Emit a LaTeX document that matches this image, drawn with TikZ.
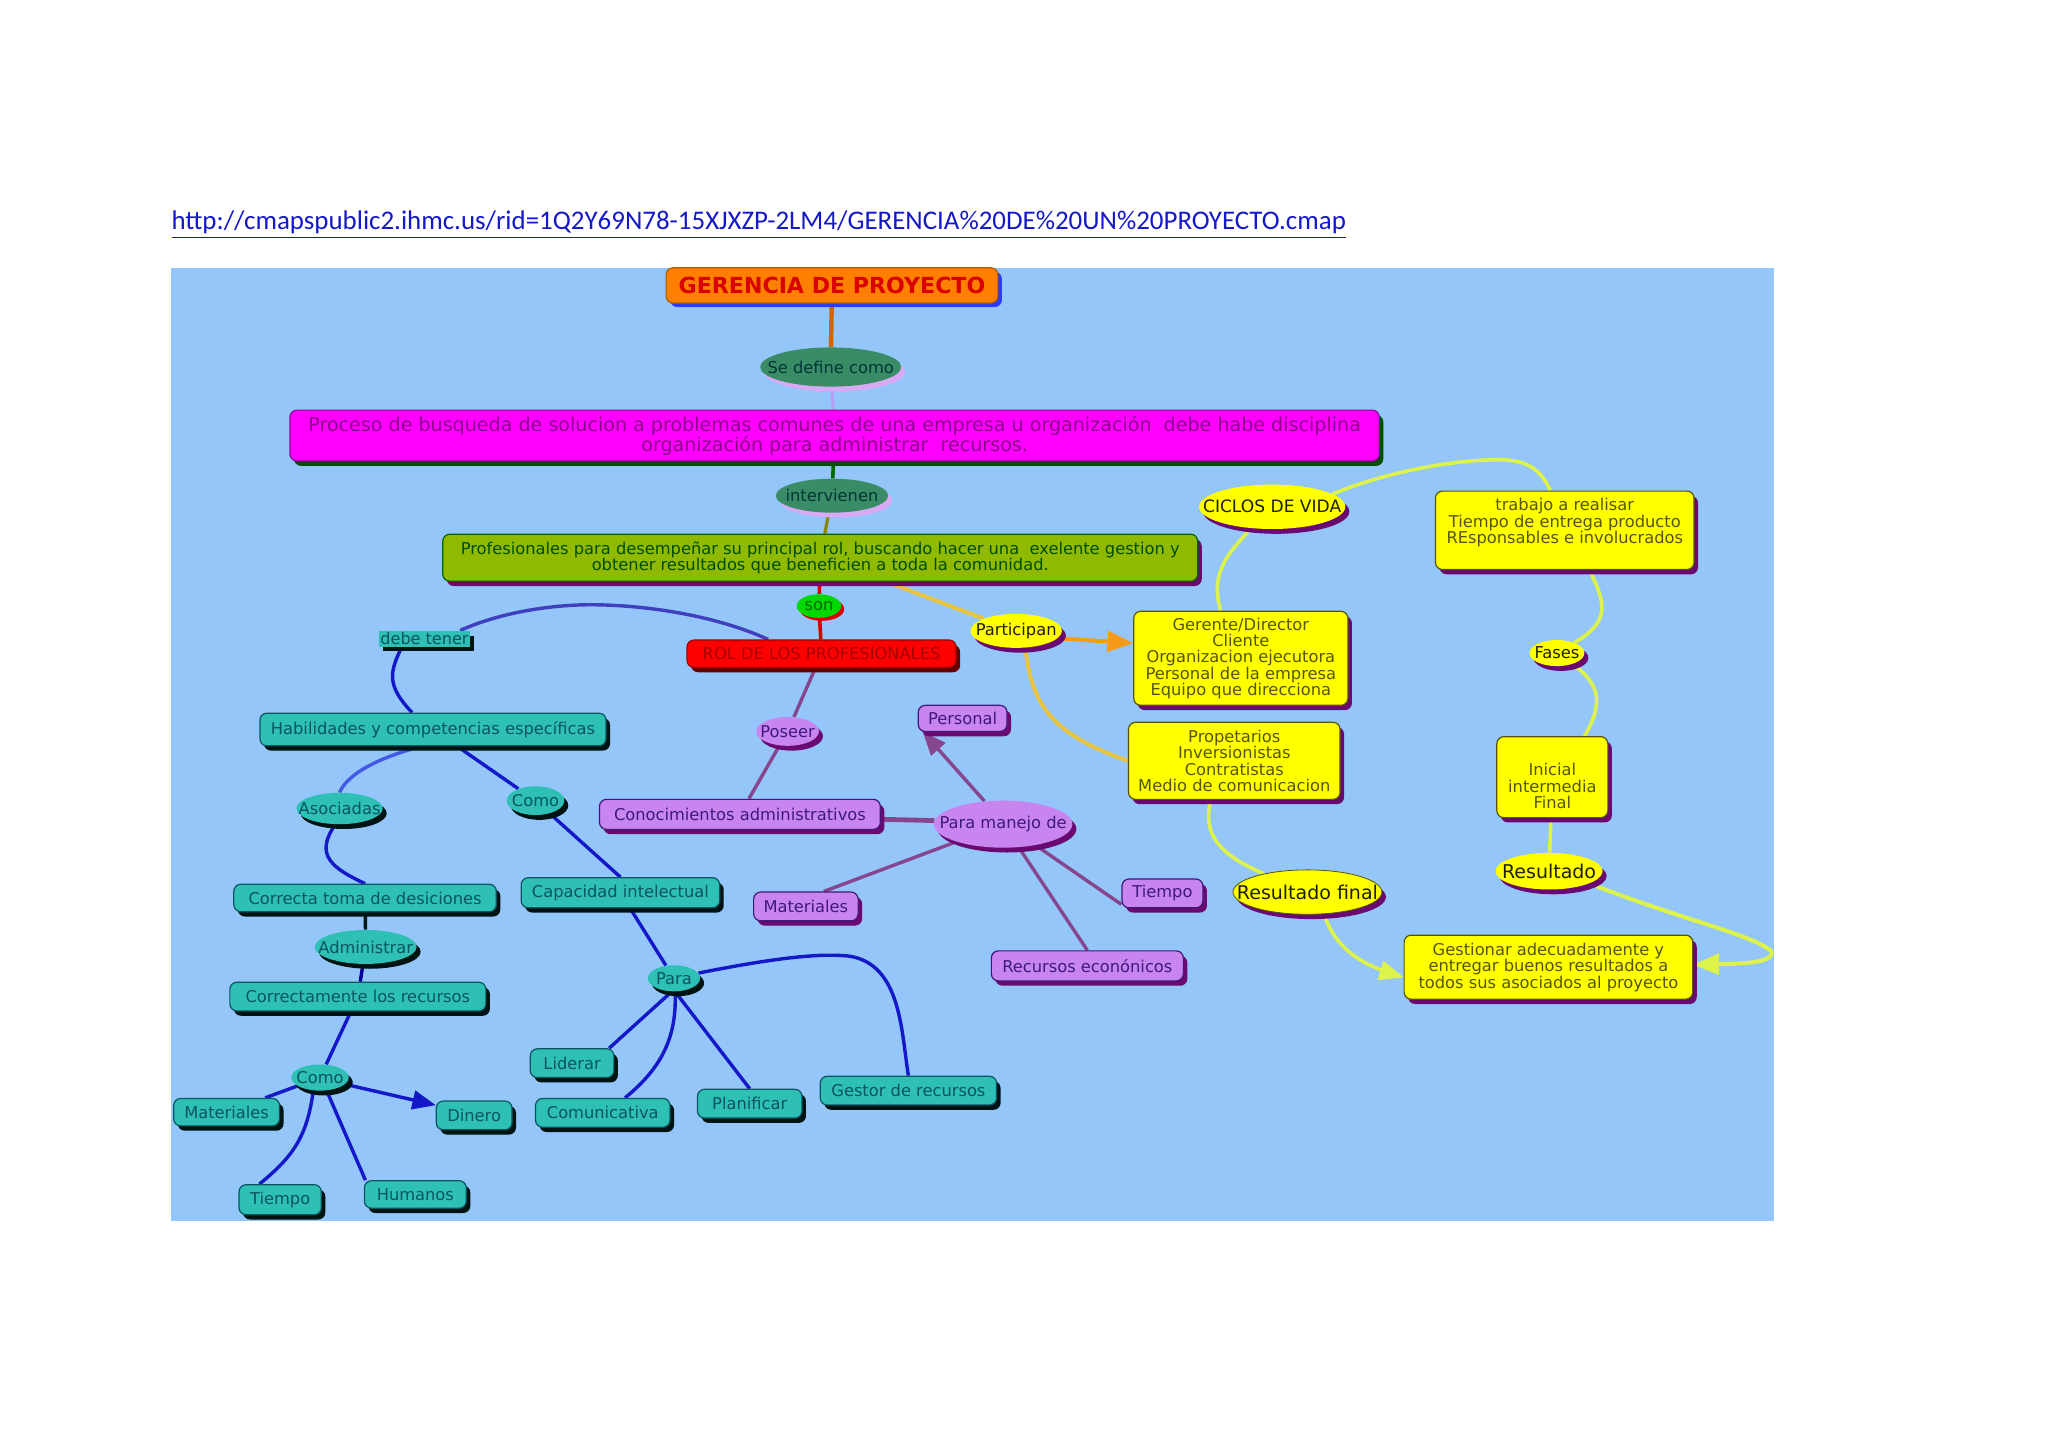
\documentclass[tikz,border=0pt]{standalone}
\usepackage{fontspec}
\setmainfont{DejaVu Sans}
\newfontfamily\linkfont{Carlito}
\usepackage{xcolor}
\usepackage{tikz}
\usetikzlibrary{arrows}
\usetikzlibrary{shapes.geometric,shadows,backgrounds}
\definecolor{panelblue}{HTML}{94C6FA}
\definecolor{tealfill}{HTML}{2EBFB5}
\definecolor{tealtext}{HTML}{0A5560}
\definecolor{lilacfill}{HTML}{C885F0}
\definecolor{lilactext}{HTML}{3F1A78}
\definecolor{plumshadow}{HTML}{6A0A70}
\definecolor{olivetext}{HTML}{55550A}
\definecolor{leaffill}{HTML}{90BA00}
\definecolor{pinegreen}{HTML}{3A8C66}
\definecolor{linkblue}{HTML}{1518C8}
\definecolor{linkplum}{HTML}{86468E}
\definecolor{linkamber}{HTML}{E8C440}
\definecolor{linklime}{HTML}{DDF24A}
\definecolor{mapyellow}{HTML}{FFFF00}
\definecolor{mapmagenta}{HTML}{FF00FF}
\definecolor{maporange}{HTML}{FF8000}
\definecolor{mapred}{HTML}{FF0000}
\newcommand{\ovaltext}[1]{\makebox[0pt]{#1}}
\tikzset{
  sized/.style 2 args={minimum width=#1*.65pt,minimum height=#2*.65pt},
  hard shadow/.style={drop shadow={shadow xshift=2pt,shadow yshift=-2.4pt,fill=#1,opacity=1}},
  mapbox/.style={rectangle,rounded corners=3.5pt,inner sep=0,align=center,line width=.6pt,font=\fontsize{8.1}{8.15}\selectfont},
  mapoval/.style={ellipse,inner sep=0,align=center,line width=.4pt,font=\fontsize{8.1}{8.15}\selectfont},
  tealbox/.style={mapbox,fill=tealfill,draw=tealtext,text=tealtext,hard shadow=black!85!teal},
  tealoval/.style={mapoval,fill=tealfill,text=tealtext,hard shadow=black!85!teal},
  lilacbox/.style={mapbox,fill=lilacfill,draw=lilactext,text=lilactext,hard shadow=plumshadow},
  lilacoval/.style={mapoval,fill=lilacfill,text=lilactext,hard shadow=plumshadow},
  yellowbox/.style={mapbox,fill=mapyellow,draw=olivetext,text=olivetext,hard shadow=plumshadow},
  yellowoval/.style={mapoval,fill=mapyellow,text=black!65!olivetext,hard shadow=plumshadow},
  pineoval/.style={mapoval,fill=pinegreen,text=black!40!teal!70!black,hard shadow=lilacfill!70},
  blueline/.style={draw=linkblue,line width=1.7pt},
  plumline/.style={draw=linkplum,line width=1.7pt},
  limeline/.style={draw=linklime,line width=1.8pt},
  amberline/.style={draw=linkamber,line width=2pt}
}
\begin{document}
\begin{tikzpicture}[x=.65pt,y=-.65pt]
\useasboundingbox (0,0) rectangle (1568,1108.6);
\node[font=\linkfont\fontsize{13.4}{15}\selectfont,text=linkblue,inner sep=0,anchor=west] (link) at (131,172)
  {\underline{http://cmapspublic2.ihmc.us/rid=1Q2Y69N78-15XJXZP-2LM4/GERENCIA\%20DE\%20UN\%20PROYECTO.cmap}};
\node[mapbox,sized={254}{27},fill=maporange,draw=maporange!70!black,text=mapred!85!black,font=\bfseries\fontsize{11}{12}\selectfont,
  drop shadow={shadow xshift=2pt,shadow yshift=-2pt,fill=blue!70!panelblue,opacity=1}] (gerencia) at (637,218.5) {GERENCIA DE PROYECTO};
\node[pineoval,sized={108}{30}] (sedefine) at (636,281) {\ovaltext{Se define como}};
\node[mapbox,sized={834}{39},fill=mapmagenta,draw=mapmagenta!60!black,text=violet!90!mapmagenta,font=\fontsize{9.5}{9.8}\selectfont,hard shadow=black!70!green] (proceso) at (639,333.5)
  {Proceso de busqueda de solucion a problemas comunes de una empresa u organización\ \ debe habe disciplina\\organización para administrar\ \ recursos.};
\node[pineoval,sized={86}{26}] (intervienen) at (637,379.5) {\ovaltext{intervienen}};
\node[mapbox,sized={578}{36},fill=leaffill,draw=black!60!green,text=black!70!green,hard shadow=plumshadow] (profesionales) at (628,427)
  {Profesionales para desempeñar su principal rol, buscando hacer una\ \ exelente gestion y\\obtener resultados que beneficien a toda la comunidad.};
\node[mapoval,sized={34}{18},fill=green!85!black,text=black!60!green,drop shadow={shadow xshift=1.5pt,shadow yshift=-1.5pt,fill=mapred!85!black,opacity=1}] (son) at (627,464) {\ovaltext{son}};
\node[mapbox,sized={206}{21},fill=mapred,draw=mapred!60!black,text=mapred!65!black,hard shadow=mapred!40!black] (rol) at (629,500.5) {ROL DE LOS PROFESIONALES};
\node[rectangle,inner sep=0,fill=tealfill,text=tealtext,sized={70}{12},font=\fontsize{8}{8}\selectfont,hard shadow=black!85!teal] (debetener) at (325,489) {debe tener};

\node[tealbox,sized={265}{25}] (habilidades) at (331.5,558.5) {Habilidades y competencias específicas};
\node[tealoval,sized={66}{24}] (asociadas) at (260,619) {\ovaltext{Asociadas}};
\node[tealoval,sized={44}{22}] (comoa) at (410,613) {\ovaltext{Como}};
\node[tealbox,sized={201}{21}] (correcta) at (279.5,687.5) {Correcta toma de desiciones};
\node[tealbox,sized={152}{23}] (capacidad) at (475,683.5) {Capacidad intelectual};
\node[tealoval,sized={78}{26}] (administrar) at (280,725) {\ovaltext{Administrar}};
\node[tealbox,sized={196}{22}] (correctamente) at (274,763) {Correctamente los recursos};
\node[tealoval,sized={40}{20}] (para) at (516,749) {\ovaltext{Para}};
\node[tealoval,sized={44}{20}] (comob) at (245,825) {\ovaltext{Como}};
\node[tealbox,sized={81}{21}] (materialesa) at (173.5,851.5) {Materiales};
\node[tealbox,sized={58}{22}] (dinero) at (363,854) {Dinero};
\node[tealbox,sized={63}{23}] (tiempoa) at (214.5,918.5) {Tiempo};
\node[tealbox,sized={78}{21}] (humanos) at (318,914.5) {Humanos};
\node[tealbox,sized={64}{22}] (liderar) at (438,814) {Liderar};
\node[tealbox,sized={103}{22}] (comunicativa) at (461.5,852) {Comunicativa};
\node[tealbox,sized={80}{22}] (planificar) at (574,845) {Planificar};
\node[tealbox,sized={135}{22}] (gestor) at (695.5,835) {Gestor de recursos};

\node[lilacoval,sized={48}{22}] (poseer) at (603,560) {\ovaltext{Poseer}};
\node[lilacbox,sized={215}{23}] (conocimientos) at (566.5,623.5) {Conocimientos administrativos};
\node[lilacoval,sized={106}{36}] (manejo) at (768,631) {\ovaltext{Para manejo de}};
\node[lilacbox,sized={68}{20}] (personal) at (737,550) {Personal};
\node[lilacbox,sized={80}{22}] (materialesb) at (617,694) {Materiales};
\node[lilacbox,sized={62}{22}] (tiempob) at (890,684) {Tiempo};
\node[lilacbox,sized={147}{23}] (recursos) at (832.5,739.5) {Recursos econónicos};

\node[yellowoval,sized={70}{26}] (participan) at (778,483) {\ovaltext{Participan}};
\node[yellowbox,sized={164}{72}] (gerente) at (950,504)
  {Gerente/Director\\Cliente\\Organizacion ejecutora\\Personal de la empresa\\Equipo que direcciona};
\node[yellowoval,sized={112}{34},font=\fontsize{8.5}{9}\selectfont] (ciclos) at (974,388) {\ovaltext{CICLOS DE VIDA}};
\node[yellowbox,sized={198}{60}] (trabajo) at (1198,406)
  {trabajo a realisar\\Tiempo de entrega producto\\REsponsables e involucrados\\[1pt]~};
\node[yellowoval,sized={42}{20}] (fases) at (1192,500) {\ovaltext{Fases}};
\node[yellowbox,sized={162}{59}] (propetarios) at (945,582.5)
  {Propetarios\\Inversionistas\\Contratistas\\Medio de comunicacion};
\node[yellowbox,sized={85}{62}] (inicial) at (1188.5,595)
  {~\\[7pt]Inicial\\intermedia\\Final};
\node[yellowoval,sized={82}{28},font=\fontsize{9.45}{10}\selectfont] (resultado) at (1186,667) {\ovaltext{Resultado}};
\node[yellowoval,sized={114}{34},font=\fontsize{9.45}{10}\selectfont,draw=olivetext] (resultadofinal) at (1001,683) {\ovaltext{Resultado final}};
\node[yellowbox,sized={221}{49}] (gestionar) at (1185.5,740.5)
  {Gestionar adecuadamente y\\entregar buenos resultados a\\todos sus asociados al proyecto};

\begin{scope}[on background layer]
\fill[panelblue] (131,205) rectangle (1358,935);
\draw[maporange!80!black,line width=2.2pt] (gerencia)--(sedefine);
\draw[lilacfill!60!panelblue,line width=1.6pt] (sedefine)--(proceso);
\draw[black!60!green,line width=1.8pt] (proceso)--(intervienen);
\draw[olive,line width=1.6pt] (intervienen)--(profesionales);
\draw[mapred!85!black,line width=1.8pt] (profesionales)--(son);
\draw[mapred!85!black,line width=1.8pt] (son)--(rol);
\draw[blue!50!gray,line width=1.7pt] (rol.165) .. controls (545,470) and (490,463) .. (452,463) .. controls (425,463) and (385,468) .. (debetener.13);
\draw[blueline] (debetener.-160) .. controls (298,515) and (296,525) .. (habilidades.141);
\draw[blue!50!panelblue!90!black,line width=1.7pt] (habilidades.-125) .. controls (283,582) and (265,595) .. (asociadas.north);
\draw[blueline] (asociadas.-105) .. controls (240,655) and (255,665) .. (correcta.north);
\draw[black!80!teal,line width=1.7pt] (correcta)--(administrar);
\draw[blue!60!black,line width=1.7pt] (administrar)--(correctamente);
\foreach \a/\b in {habilidades/comoa,comoa/capacidad.north,capacidad/para,correctamente/comob,comob/materialesa,comob.-63/humanos.164,para.-100/liderar.22,para.-85/planificar.north} {
  \draw[blueline] (\a)--(\b);
}
\draw[blueline] (comob.-117) .. controls (235,870) and (225,885) .. (tiempoa.143);
\draw[blueline] (para.-85) .. controls (518,790) and (510,815) .. (comunicativa.34);
\draw[blueline] (para.12) .. controls (600,732) and (630,730) .. (650,732) .. controls (690,738) and (690,790) .. (gestor.90);
\draw[blueline,->,>=triangle 45] (comob.-15)--(dinero.165);
\foreach \a/\b in {rol/poseer,poseer/conocimientos,manejo/materialesb.40,manejo.-33/tiempob.-165,manejo.-56/recursos.north} {
  \draw[plumline] (\a)--(\b);
}
\draw[plumline,line width=2.4pt] (conocimientos.-2)--(manejo.177);
\draw[plumline,->,>=triangle 45] (manejo.129)--(personal.-161);
\draw[amberline] (profesionales.-20)--(participan);
\draw[amberline,orange!60!linkamber,->,>=triangle 45] (participan.-10)--(gerente.172);
\draw[amberline] (participan.-62) .. controls (790,540) and (805,562) .. (propetarios.west);
\draw[limeline] (gerente.113) .. controls (925,435) and (945,420) .. (ciclos.-135);
\draw[limeline] (ciclos.12) .. controls (1060,362) and (1110,352) .. (1148,352) .. controls (1170,352) and (1180,360) .. (trabajo.110);
\draw[limeline] (trabajo.-58) .. controls (1228,460) and (1235,475) .. (fases.31);
\draw[limeline] (fases.-35) .. controls (1222,522) and (1230,535) .. (inicial.52);
\draw[limeline] (inicial)--(resultado);
\draw[limeline,->,>=triangle 45,line width=2pt] (resultado.-17) .. controls (1290,705) and (1340,715) .. (1356,728) .. controls (1360,738) and (1330,738) .. (gestionar.1);
\draw[limeline] (propetarios.-121) .. controls (920,640) and (935,655) .. (resultadofinal.157);
\draw[limeline,->,>=triangle 45] (resultadofinal.-53) .. controls (1022,725) and (1040,738) .. (gestionar.-176);
\end{scope}
\end{tikzpicture}
\end{document}
